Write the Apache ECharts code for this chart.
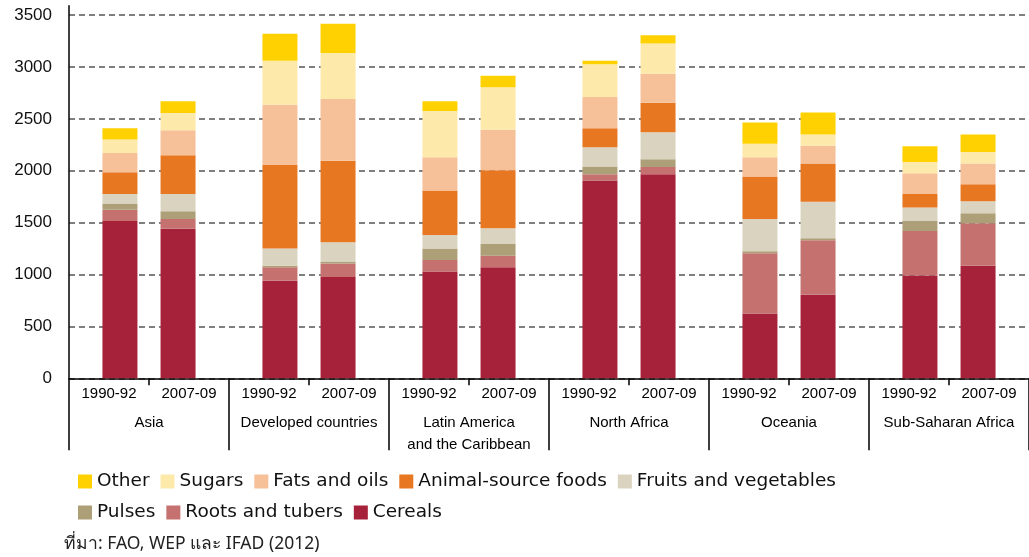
<!DOCTYPE html>
<html>
<head>
<meta charset="utf-8">
<script src="https://cdn.jsdelivr.net/npm/echarts@6/dist/echarts.min.js"></script>
<style>html,body{margin:0;padding:0;background:#fff;}#c{width:1029px;height:557px;}</style>
</head>
<body>
<div id="c"></div>
<script>
// Regions (groups) and periods
var regions = ['Asia', 'Developed countries', 'Latin America\nand the Caribbean', 'North Africa', 'Oceania', 'Sub-Saharan Africa'];
var periods = ['1990-92', '2007-09'];
var periodLabels = ['1990-92','2007-09','1990-92','2007-09','1990-92','2007-09','1990-92','2007-09','1990-92','2007-09','1990-92','2007-09'];
var yTicks = [0, 500, 1000, 1500, 2000, 2500, 3000, 3500];

// kcal/person/day, by region; first array 1990-92, second 2007-09
var cereals9092 = [1515, 940, 1030, 1905, 625, 990];
var cereals0709 = [1440, 975, 1070, 1965, 805, 1085];
var roots9092   = [110, 130, 110, 60, 580, 430];
var roots0709   = [95, 130, 110, 70, 525, 410];
var pulses9092  = [60, 15, 110, 75, 20, 95];
var pulses0709  = [75, 20, 115, 75, 20, 95];
var fruits9092  = [90, 165, 130, 185, 310, 130];
var fruits0709  = [165, 185, 150, 260, 350, 115];
var animal9092  = [210, 805, 430, 185, 410, 130];
var animal0709  = [375, 785, 560, 285, 370, 165];
var fats9092    = [185, 580, 320, 300, 185, 200];
var fats0709    = [240, 595, 390, 280, 170, 200];
var sugars9092  = [130, 425, 445, 315, 130, 110];
var sugars0709  = [165, 445, 410, 290, 110, 110];
var other9092   = [110, 260, 95, 35, 205, 150];
var other0709   = [115, 280, 110, 80, 210, 170];

var seriesNames = ['Cereals', 'Roots and tubers', 'Pulses', 'Fruits and vegetables', 'Animal-source foods', 'Fats and oils', 'Sugars', 'Other'];
var seriesColors = ['#a6213a', '#c4716f', '#ad9f77', '#dad3bf', '#e87722', '#f6c098', '#fde9a9', '#ffd100'];
var data9092 = [cereals9092, roots9092, pulses9092, fruits9092, animal9092, fats9092, sugars9092, other9092];
var data0709 = [cereals0709, roots0709, pulses0709, fruits0709, animal0709, fats0709, sugars0709, other0709];

var series = [];
[data9092, data0709].forEach(function (set, pi) {
  set.forEach(function (vals, i) {
    series.push({
      type: 'bar',
      name: seriesNames[i],
      stack: 'p' + pi,
      xAxisIndex: 0,
      barWidth: 35,
      barGap: '66%',
      itemStyle: { color: seriesColors[i] },
      emphasis: { disabled: true },
      data: vals
    });
  });
});

var axisFont = "'Liberation Sans', Arial, sans-serif";
var legendFont = { fontFamily: 'DejaVu Sans, sans-serif', fontSize: 18.5, color: '#111' };

var chart = echarts.init(document.getElementById('c'), null, { renderer: 'canvas' });
chart.setOption({
  animation: false,
  backgroundColor: '#fff',
  grid: { left: 69, right: -12, top: 5.7, bottom: 178.7, containLabel: false },
  title: {
    text: 'ที่มา: FAO, WEP และ IFAD (2012)',
    left: 64, top: 535,
    padding: 0,
    textStyle: { fontFamily: "'Noto Sans', 'DejaVu Sans', sans-serif", fontSize: 17.5, fontWeight: 'normal', color: '#222' }
  },
  legend: [
    {
      data: ['Other', 'Sugars', 'Fats and oils', 'Animal-source foods', 'Fruits and vegetables'],
      left: 78, top: 472, padding: 0,
      itemWidth: 14, itemHeight: 14, itemGap: 11, icon: 'rect',
      selectedMode: false,
      textStyle: legendFont
    },
    {
      data: ['Pulses', 'Roots and tubers', 'Cereals'],
      left: 78, top: 503, padding: 0,
      itemWidth: 14, itemHeight: 14, itemGap: 11, icon: 'rect',
      selectedMode: false,
      textStyle: legendFont
    }
  ],
  xAxis: [
    {
      type: 'category',
      data: regions,
      position: 'bottom',
      boundaryGap: true,
      axisLine: { show: true, lineStyle: { color: '#000', width: 1.5 } },
      axisTick: { show: true, length: 72, lineStyle: { color: '#000', width: 1.5 } },
      axisLabel: { margin: 34, fontFamily: axisFont, fontSize: 15, lineHeight: 22, color: '#000', interval: 0 },
      splitLine: { show: false }
    },
    {
      type: 'category',
      data: periodLabels,
      position: 'bottom',
      boundaryGap: true,
      axisLine: { show: false },
      axisTick: { show: true, length: 7, lineStyle: { color: '#000', width: 1.5 } },
      axisLabel: { margin: 8, fontFamily: axisFont, fontSize: 15, color: '#000', interval: 0 },
      splitLine: { show: false }
    }
  ],
  yAxis: {
    type: 'value',
    min: 0, max: 3590, interval: 500,
    axisLine: { show: true, lineStyle: { color: '#000', width: 1.5 } },
    axisTick: { show: false },
    axisLabel: {
      showMaxLabel: false,
      margin: 17, fontFamily: axisFont, fontSize: 17, color: '#111',
      formatter: function (v) { return yTicks.indexOf(v) >= 0 ? String(v) : ''; }
    },
    splitLine: { show: true, showMaxLine: false, lineStyle: { color: '#7f7f7f', type: [6, 4], width: 2 } }
  },
  series: series
});
</script>
</body>
</html>
